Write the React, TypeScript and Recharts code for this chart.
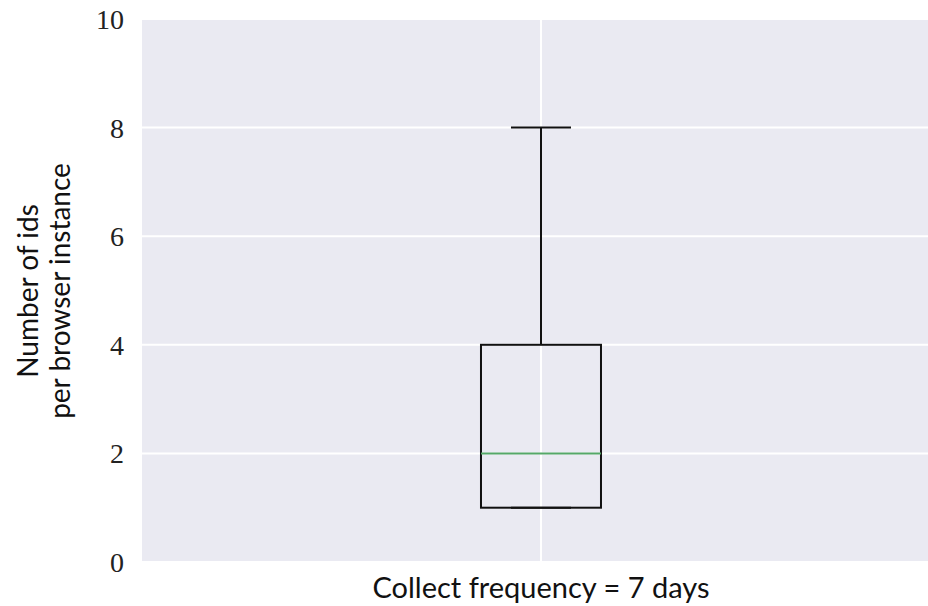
import { ComposedChart, Bar, XAxis, YAxis, CartesianGrid, Label } from 'recharts';

// box plot stats, one entry per position
const positions = [1];
const whiskerLow = [1];
const q1 = [1];
const median = [2];
const q3 = [4];
const whiskerHigh = [8];
const yTicks = [0, 2, 4, 6, 8, 10];
const xDomain = [0.5, 1.485];
const xLabel = 'Collect frequency = 7 days';

const data = positions.map((pos, i) => ({
  pos,
  box: [q1[i], q3[i]],
  lo: whiskerLow[i],
  q1: q1[i],
  med: median[i],
  q3: q3[i],
  hi: whiskerHigh[i],
}));

const BoxShape = (props: any) => {
  const { x, y, width, height, payload } = props;
  // linear mapping from the bar's own geometry (value -> pixel)
  const pp = height / (payload.q3 - payload.q1 || 1);
  const yOf = (v: number) => y + (payload.q3 - v) * pp;
  const cx = x + width / 2;
  const capHalf = width / 4;
  return (
    <g>
      <line x1={cx} x2={cx} y1={yOf(payload.hi)} y2={yOf(payload.q3)} stroke="#111" strokeWidth={2} />
      <line x1={cx} x2={cx} y1={yOf(payload.q1)} y2={yOf(payload.lo)} stroke="#111" strokeWidth={2} />
      <line x1={cx - capHalf} x2={cx + capHalf} y1={yOf(payload.hi)} y2={yOf(payload.hi)} stroke="#111" strokeWidth={2} />
      <line x1={cx - capHalf} x2={cx + capHalf} y1={yOf(payload.lo)} y2={yOf(payload.lo)} stroke="#111" strokeWidth={2} />
      <rect x={x} y={y} width={width} height={height} fill="none" stroke="#111" strokeWidth={2} />
      <line x1={x} x2={x + width} y1={yOf(payload.med)} y2={yOf(payload.med)} stroke="#55A868" strokeWidth={2} />
    </g>
  );
};

const YLabel = () => (
  <text
    transform="translate(0, 291) rotate(-90)"
    textAnchor="middle"
    fontFamily="Lato"
    fontSize={28}
    fill="#111"
  >
    <tspan x={0} y={38}>Number of ids</tspan>
    <tspan x={0} y={70}>per browser instance</tspan>
  </text>
);

const XLabel = (props: any) => {
  const vb = props.viewBox;
  return (
    <text x={541} y={vb.y + 36} textAnchor="middle" fontFamily="Lato" fontSize={29} fill="#111">
      {xLabel}
    </text>
  );
};

// vertical grid at each box position, under the boxes
const vGrid = ({ offset }: any) =>
  positions.map((p) => offset.left + ((p - xDomain[0]) / (xDomain[1] - xDomain[0])) * offset.width);

export default function App() {
  return (
    <div style={{ position: 'absolute', left: 0, top: 0, width: 928, height: 606, overflow: 'hidden', background: '#fff' }}>
      <ComposedChart width={928} height={606} data={data} margin={{ top: 19, right: 0, left: 0, bottom: 0 }}>
        <CartesianGrid fill="#EAEAF2" stroke="#fff" strokeWidth={2} verticalCoordinatesGenerator={vGrid} />
        <XAxis
          dataKey="pos"
          type="number"
          domain={xDomain}
          ticks={positions}
          tick={false}
          tickLine={false}
          axisLine={false}
          height={44}
        >
          <Label content={<XLabel />} />
        </XAxis>
        <YAxis
          domain={[0, 10]}
          ticks={yTicks}
          tickLine={false}
          axisLine={false}
          width={142}
          tickMargin={12}
          tick={{ fontFamily: 'Liberation Serif', fontSize: 28, fill: '#222' }}
          label={<YLabel />}
        />
        <Bar dataKey="box" barSize={120} shape={<BoxShape />} isAnimationActive={false} />
      </ComposedChart>
    </div>
  );
}
